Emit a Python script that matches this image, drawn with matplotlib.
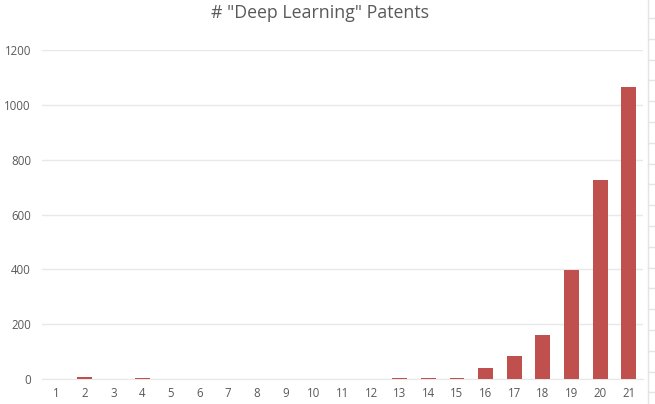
import matplotlib
matplotlib.use("Agg")
import matplotlib.pyplot as plt
from matplotlib.lines import Line2D
import numpy as np

categories = [str(i) for i in range(1, 22)]
patents = [1, 6, 1, 2, 0, 1, 1, 0, 0, 0, 1, 1, 3, 4, 4, 39, 85, 162, 397, 726, 1066]

BAR_COLOR = "#C0504D"
GRID_COLOR = "#E8E8E8"
TEXT_COLOR = "#595959"

plt.rcParams["font.family"] = ["Open Sans", "DejaVu Sans"]

fig = plt.figure(figsize=(6.55, 4.04), dpi=100)
ax = fig.add_axes([42 / 655, 25 / 404, 601 / 655, 329 / 404])

x = np.arange(len(categories))
ax.bar(x, patents, width=0.52, color=BAR_COLOR, zorder=3)

ax.set_xlim(-0.5, len(categories) - 0.5)
ax.set_ylim(0, 1200)
ax.set_yticks(np.arange(0, 1201, 200))
ax.set_xticks(x)
ax.set_xticklabels(categories)
ax.grid(axis="y", color=GRID_COLOR, linewidth=1.0, zorder=0)
ax.tick_params(axis="both", length=0, labelsize=8.3, colors=TEXT_COLOR)
ax.tick_params(axis="y", pad=8)
ax.tick_params(axis="x", pad=6)
for side in ["top", "right", "left"]:
    ax.spines[side].set_visible(False)
ax.spines["bottom"].set_color(GRID_COLOR)

fig.suptitle('# "Deep Learning" Patents', x=0.489, y=0.99, fontsize=12.8, color=TEXT_COLOR)

# spreadsheet cell borders peeking in on the right edge
fig.add_artist(Line2D([648 / 655, 648 / 655], [0, 1], color="#E4E4E4", linewidth=1.0))
for yy in np.arange(18, 404, 20.8):
    fig.add_artist(Line2D([648 / 655, 1], [1 - yy / 404, 1 - yy / 404], color="#E4E4E4", linewidth=1.0))

fig.savefig("out.png", dpi=100)
